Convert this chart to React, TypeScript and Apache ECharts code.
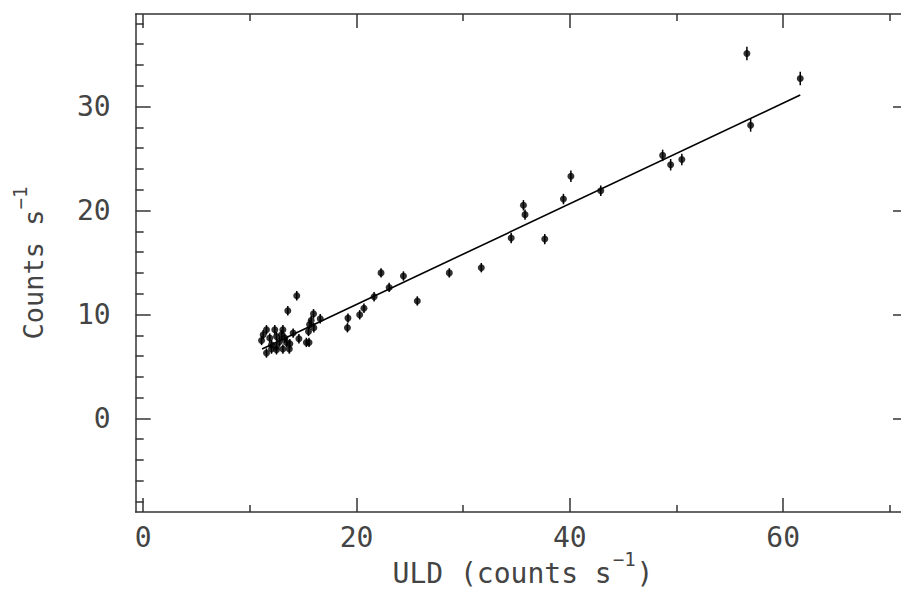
import React, { useEffect, useRef } from "react";
import * as echarts from "echarts";

// ULD count rate (x), detector count rate (y), 1-sigma error on y
const uldRates: number[] = [
  56.6, 61.6, 56.95, 48.7, 49.45, 50.5, 42.9, 40.1, 39.4, 35.65, 35.8, 37.65,
  34.5, 31.7, 28.7, 25.7, 24.4, 22.3, 23.06, 21.65, 20.7, 20.3, 19.2, 19.15,
  14.4, 13.56, 15.97, 16.6, 15.75, 15.6, 16.0, 15.5, 14.06, 14.6, 15.3, 15.55,
  11.56, 12.34, 13.1, 11.25, 11.1, 11.87, 12.5, 12.97, 13.28, 12.8, 12.03, 12.5,
  12.03, 12.5, 13.1, 13.7, 11.56, 13.75, 13.44,
];
const countRates: number[] = [
  35.1, 32.7, 28.2, 25.3, 24.4, 24.9, 21.9, 23.3, 21.1, 20.5, 19.6, 17.25,
  17.35, 14.5, 14.0, 11.3, 13.7, 14.0, 12.6, 11.7, 10.6, 9.97, 9.65, 8.72,
  11.8, 10.36, 10.07, 9.59, 9.42, 9.04, 8.72, 8.37, 8.21, 7.66, 7.31, 7.31,
  8.53, 8.53, 8.53, 8.05, 7.5, 7.73, 7.88, 8.05, 7.73, 7.4, 7.09, 6.92,
  6.67, 6.6, 6.67, 6.67, 6.29, 7.18, 7.31,
];
const countErrors: number[] = [
  0.65, 0.65, 0.62, 0.55, 0.55, 0.55, 0.5, 0.55, 0.5, 0.5, 0.5, 0.5,
  0.5, 0.45, 0.45, 0.45, 0.45, 0.45, 0.45, 0.45, 0.45, 0.45, 0.45, 0.45,
  0.45, 0.45, 0.45, 0.45, 0.45, 0.45, 0.45, 0.45, 0.45, 0.45, 0.45, 0.45,
  0.45, 0.45, 0.45, 0.45, 0.45, 0.45, 0.45, 0.45, 0.45, 0.45, 0.45, 0.45,
  0.45, 0.45, 0.45, 0.45, 0.45, 0.45, 0.45,
];
// linear fit end points
const fitX: number[] = [11.15, 61.6];
const fitY: number[] = [6.68, 31.1];

const xMajorTicks: number[] = [0, 20, 40, 60];
const xMinorTicks: number[] = [10, 30, 50, 70];
const yMajorTicks: number[] = [0, 10, 20, 30];
const yMinorTicks: number[] = [-8, -6, -4, -2, 2, 4, 6, 8, 12, 14, 16, 18, 22, 24, 26, 28, 32, 34, 36, 38];

// axis titles
const xTitleMain = "ULD (counts s";
const xTitleSup = "\u22121";
const xTitleEnd = ")";

const X_MIN = -0.7;
const X_MAX = 71.14;
const Y_MIN = -9;
const Y_MAX = 38.9;

const FONT = "DejaVu Sans Mono";
const TEXT_COLOR = "#444";
const LINE_COLOR = "#333";

const nameRich = {
  b: { fontFamily: FONT, fontSize: 27, lineHeight: 46, color: TEXT_COLOR },
  sup: { fontFamily: FONT, fontSize: 19, lineHeight: 20, verticalAlign: "top", color: TEXT_COLOR },
};

export default function App() {
  const ref = useRef<HTMLDivElement>(null);

  useEffect(() => {
    if (!ref.current) return;
    const chart = echarts.init(ref.current, null, { renderer: "svg" });

    const points = uldRates.map((x, i) => [x, countRates[i], countErrors[i]]);
    const fit = fitX.map((x, i) => [x, fitY[i]]);

    const mkX = (position: "top" | "bottom", major: boolean, main: boolean) => ({
      type: "value",
      gridIndex: 0,
      position,
      min: X_MIN,
      max: X_MAX,
      axisLine: { show: main, onZero: false, lineStyle: { color: LINE_COLOR, width: 1.5 } },
      splitLine: { show: false },
      axisTick: {
        show: true,
        inside: true,
        length: major ? 14 : 7,
        customValues: major ? xMajorTicks : xMinorTicks,
        lineStyle: { color: LINE_COLOR, width: 1.5 },
      },
      axisLabel: {
        show: main && position === "bottom",
        customValues: xMajorTicks,
        margin: 11,
        fontFamily: FONT,
        fontSize: 28,
        color: TEXT_COLOR,
      },
    });

    const leftMajor = {
      type: "value",
      gridIndex: 0,
      position: "left",
      min: Y_MIN,
      max: Y_MAX,
      axisLine: { show: true, onZero: false, lineStyle: { color: LINE_COLOR, width: 1.5 } },
      splitLine: { show: false },
      axisTick: {
        show: true,
        inside: true,
        length: 15,
        customValues: yMajorTicks,
        lineStyle: { color: LINE_COLOR, width: 1.5 },
      },
      axisLabel: {
        show: true,
        customValues: yMajorTicks,
        margin: 25,
        fontFamily: FONT,
        fontSize: 28,
        color: TEXT_COLOR,
      },
      name: "{b|Counts s}{sup|\u22121}",
      nameLocation: "middle",
      nameGap: 79,
      nameTextStyle: { fontFamily: FONT, color: TEXT_COLOR, rich: nameRich },
    };
    const leftMinor = {
      type: "value",
      gridIndex: 0,
      position: "left",
      min: Y_MIN,
      max: Y_MAX,
      axisLine: { show: false, onZero: false },
      splitLine: { show: false },
      axisTick: {
        show: true,
        inside: true,
        length: 8,
        customValues: yMinorTicks,
        lineStyle: { color: LINE_COLOR, width: 1.5 },
      },
      axisLabel: { show: false },
    };
    // right frame edge lies just outside the picture: only the tips of the major ticks show
    const rightMajor = {
      type: "value",
      gridIndex: 0,
      position: "right",
      min: Y_MIN,
      max: Y_MAX,
      axisLine: { show: false, onZero: false },
      splitLine: { show: false },
      axisTick: {
        show: true,
        inside: true,
        length: 9,
        customValues: yMajorTicks,
        lineStyle: { color: LINE_COLOR, width: 1.5 },
      },
      axisLabel: { show: false },
    };

    // x-axis title as separate texts (main, superscript, closing bracket)
    const charW = 28 * 0.602;
    const supW = 19 * 0.602 * 2;
    const totalW = charW * (xTitleMain.length + xTitleEnd.length) + supW;
    const startX = 522 - totalW / 2;
    const mainW = charW * xTitleMain.length;

    chart.setOption({
      animation: false,
      backgroundColor: "#fff",
      grid: {
        left: 135.7,
        top: 14,
        right: -1,
        bottom: 78,
        containLabel: false,
        outerBoundsMode: "none",
      },
      xAxis: [
        mkX("bottom", true, true),
        mkX("bottom", false, false),
        mkX("top", true, true),
        mkX("top", false, false),
      ],
      yAxis: [leftMajor, leftMinor, rightMajor],
      graphic: [
        {
          type: "text",
          x: startX,
          y: 573,
          style: {
            text: xTitleMain,
            fontFamily: FONT,
            fontSize: 28,
            fill: TEXT_COLOR,
            align: "left",
            verticalAlign: "middle",
          },
        },
        {
          type: "text",
          x: startX + mainW + 1,
          y: 559,
          style: {
            text: xTitleSup,
            fontFamily: FONT,
            fontSize: 19,
            fill: TEXT_COLOR,
            align: "left",
            verticalAlign: "middle",
          },
        },
        {
          type: "text",
          x: startX + mainW + supW + 2,
          y: 573,
          style: {
            text: xTitleEnd,
            fontFamily: FONT,
            fontSize: 28,
            fill: TEXT_COLOR,
            align: "left",
            verticalAlign: "middle",
          },
        },
      ],
      series: [
        {
          type: "custom",
          name: "errors",
          xAxisIndex: 0,
          yAxisIndex: 0,
          data: points,
          renderItem: (params: any, api: any) => {
            const x = api.value(0);
            const y = api.value(1);
            const e = api.value(2);
            const p1 = api.coord([x, y - e]);
            const p2 = api.coord([x, y + e]);
            return {
              type: "line",
              shape: { x1: p1[0], y1: p1[1], x2: p2[0], y2: p2[1] },
              style: { stroke: "#000", lineWidth: 1.5 },
            };
          },
          encode: { x: 0, y: 1 },
          z: 3,
        },
        {
          type: "scatter",
          name: "points",
          xAxisIndex: 0,
          yAxisIndex: 0,
          data: points.map((p) => [p[0], p[1]]),
          symbol: "circle",
          symbolSize: 7,
          itemStyle: { color: "#000" },
          z: 4,
        },
        {
          type: "line",
          name: "fit",
          xAxisIndex: 0,
          yAxisIndex: 0,
          data: fit,
          showSymbol: false,
          symbol: "none",
          lineStyle: { color: "#000", width: 1.6 },
          z: 2,
        },
      ],
    });

    return () => chart.dispose();
  }, []);

  return (
    <div
      ref={ref}
      style={{ position: "absolute", left: 0, top: 0, width: 901, height: 590, background: "#fff" }}
    />
  );
}
